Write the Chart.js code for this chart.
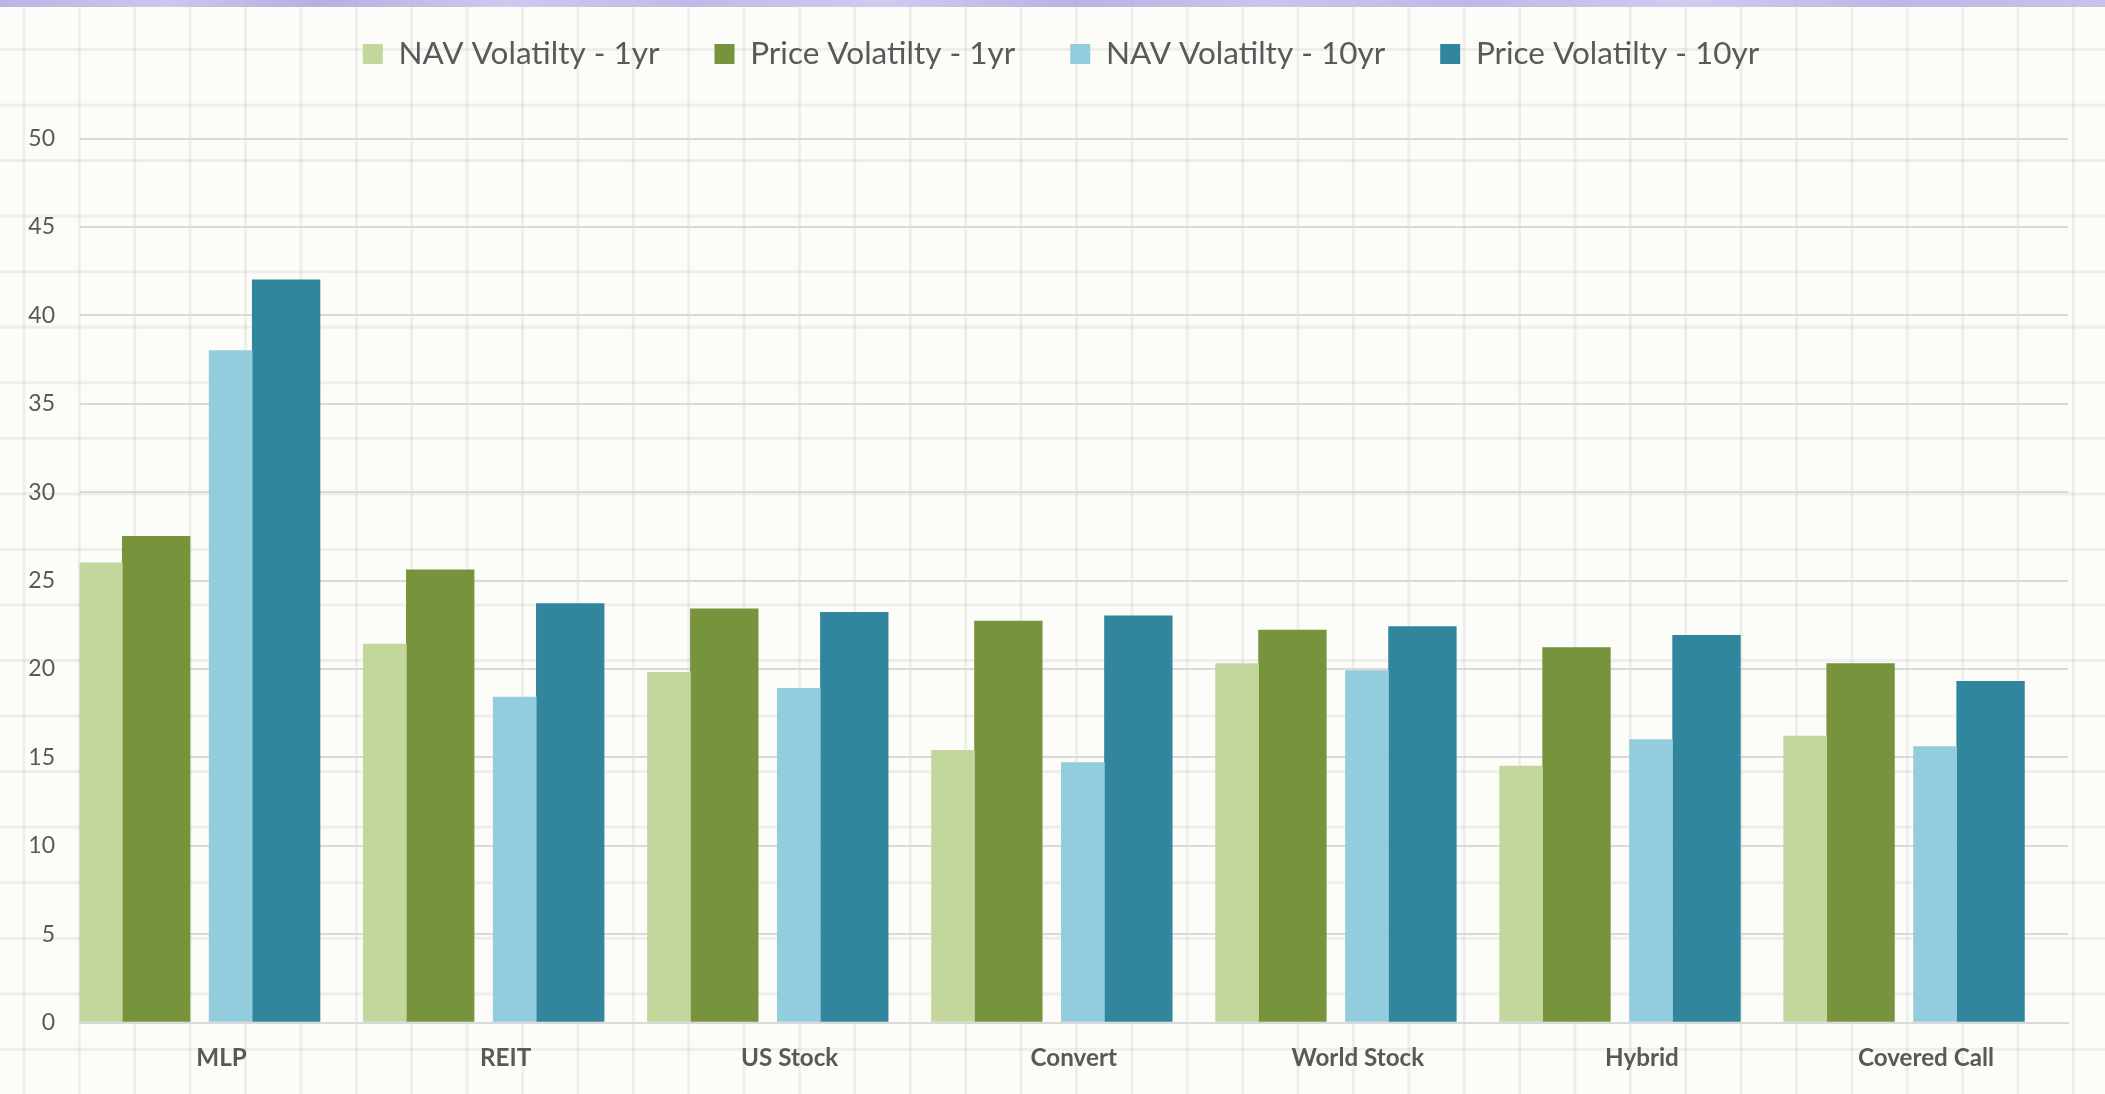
<!DOCTYPE html>
<html>
<head>
<meta charset="utf-8">
<script src="https://cdn.jsdelivr.net/npm/chart.js@4.4.1/dist/chart.umd.min.js"></script>
<style>
  html, body { margin: 0; padding: 0; background: #fcfcf8; }
  #wrap {
    position: relative; width: 2105px; height: 1094px; overflow: hidden;
    background-color: #fcfcf8;
    background-image:
      linear-gradient(to right, rgba(0,0,0,0.055) 0, rgba(0,0,0,0.055) 3px, transparent 3px),
      linear-gradient(to bottom, rgba(0,0,0,0.055) 0, rgba(0,0,0,0.055) 3px, transparent 3px);
    background-size: 55.4px 55.55px;
    background-position: 22.5px 48px;
  }
  #band {
    position: absolute; left: 0; top: 0; width: 2105px; height: 7px;
    background: linear-gradient(90deg, #bdb3e4 0%, #cdc6ee 8%, #b8aee0 15%, #cfc8ef 24%, #c2b9e8 33%, #d0caf0 42%, #bbb1e3 51%, #cbc4ed 60%, #c0b7e7 70%, #d1cbf1 80%, #bfb6e6 90%, #c9c2ec 100%);
  }
  canvas { position: absolute; left: 0; top: 0; }
</style>
</head>
<body>
<div id="wrap">
  <div id="band"></div>
  <canvas id="chart" width="2105" height="1094"></canvas>
</div>
<script>
// ---- data ----
const categories = ['MLP', 'REIT', 'US Stock', 'Convert', 'World Stock', 'Hybrid', 'Covered Call'];
const seriesNames = ['NAV Volatilty - 1yr', 'Price Volatilty - 1yr', 'NAV Volatilty - 10yr', 'Price Volatilty - 10yr'];
const navVol1yr    = [26.0, 21.4, 19.8, 15.4, 20.3, 14.5, 16.2];
const priceVol1yr  = [27.5, 25.6, 23.4, 22.7, 22.2, 21.2, 20.3];
const navVol10yr   = [38.0, 18.4, 18.9, 14.7, 19.9, 16.0, 15.6];
const priceVol10yr = [42.0, 23.7, 23.2, 23.0, 22.4, 21.9, 19.3];
const yMin = 0, yMax = 50, yStep = 5;

// ---- styling / layout ----
const FONT = 'Lato, "Open Sans", sans-serif';
const TEXT = '#595959';
const COLORS = ['#c3d69b', '#77933c', '#93cddd', '#31859c'];
// where each series sits inside its category slot (fraction of a category)
const SLOT_SHIFT = [-0.425, -0.2302, 0.0321, 0.2274];
const BAR_WIDTH = [43, 67.7, 43, 67.7];

const seriesValues = [navVol1yr, priceVol1yr, navVol10yr, priceVol10yr];

const makeDataset = (s) => ({
  label: seriesNames[s],
  data: seriesValues[s].map((v, i) => ({ x: i + SLOT_SHIFT[s], y: v })),
  backgroundColor: COLORS[s],
  borderWidth: 0,
  grouped: false,
  barThickness: BAR_WIDTH[s]
});

const legendBox = {
  id: 'legendBox',
  beforeLayout(chart) {
    const lg = chart.legend;
    if (!lg || lg._patched) return;
    const fit = lg.fit;
    lg.fit = function () { fit.call(this); this.height = 155.25; };
    lg._patched = true;
  },
  afterLayout(chart) {
    const lg = chart.legend;
    if (!lg) return;
    lg.left += 27; lg.right += 27;
  }
};

new Chart(document.getElementById('chart'), {
  type: 'bar',
  data: { datasets: [0, 1, 2, 3].map(makeDataset) },
  options: {
    responsive: false,
    animation: false,
    devicePixelRatio: 1,
    layout: { padding: { top: -16.75, left: 0, right: 37, bottom: 0 } },
    plugins: {
      tooltip: { enabled: false },
      legend: {
        position: 'top',
        align: 'center',
        labels: {
          boxWidth: 20, boxHeight: 20, padding: 55,
          color: TEXT,
          font: { family: FONT, size: 31.5 }
        }
      }
    },
    scales: {
      x: {
        type: 'linear',
        offset: false,
        min: -0.5,
        max: categories.length - 0.5,
        afterBuildTicks(axis) { axis.ticks = categories.map((c, i) => ({ value: i })); },
        grid: { display: false, drawTicks: false },
        border: { display: true, color: '#d9d9d9', width: 2 },
        ticks: {
          color: TEXT, font: { family: FONT, size: 24.2, weight: 'bold' }, padding: 21,
          maxRotation: 0, autoSkip: false,
          callback: (v) => categories[v]
        },
        afterFit(s) { s.height = 71.5; }
      },
      y: {
        min: yMin, max: yMax,
        ticks: { stepSize: yStep, color: TEXT, font: { family: FONT, size: 23 }, padding: 24.5 },
        grid: { color: '#d9d9d9', lineWidth: 2, drawTicks: false },
        border: { display: false },
        afterFit(s) { s.width = 79.5; }
      }
    }
  },
  plugins: [legendBox]
});
</script>
</body>
</html>
